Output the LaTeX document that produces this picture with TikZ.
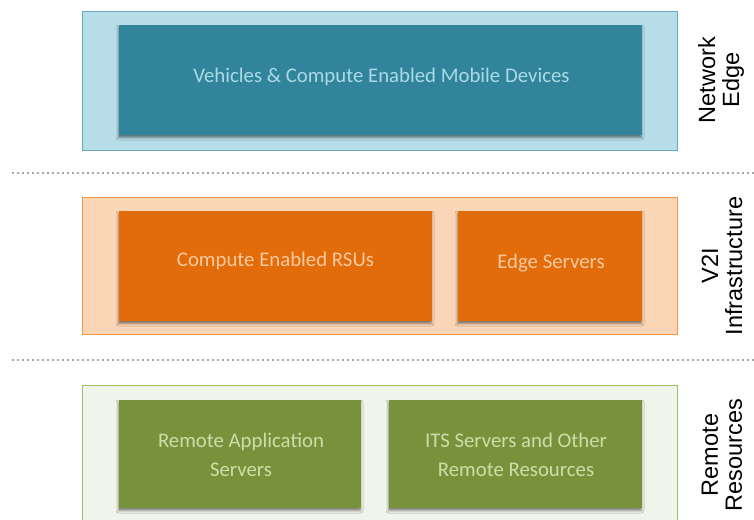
\documentclass[tikz,border=0pt]{standalone}
\usepackage{fontspec}
\setmainfont{Carlito}
\newfontfamily\labelfont{Liberation Sans}
\usetikzlibrary{shadows.blur}
\definecolor{bOut}{RGB}{183,221,232}
\definecolor{bOutLine}{RGB}{100,170,195}
\definecolor{bIn}{RGB}{50,132,155}
\definecolor{bTxt}{RGB}{170,218,232}
\definecolor{oOut}{RGB}{251,214,182}
\definecolor{oOutLine}{RGB}{245,150,70}
\definecolor{oIn}{RGB}{226,108,10}
\definecolor{oTxt}{RGB}{250,200,160}
\definecolor{gOut}{RGB}{241,244,234}
\definecolor{gOutLine}{RGB}{160,190,100}
\definecolor{gIn}{RGB}{119,146,58}
\definecolor{gTxt}{RGB}{205,222,170}
\tikzset{
  outerbox/.style={draw, line width=1pt, inner sep=0pt},
  innerbox/.style={inner sep=0pt, blur shadow={shadow xshift=-0.5pt, shadow yshift=-2.5pt, shadow blur radius=2.5pt, shadow opacity=50}},
  boxtext/.style={font=\fontsize{20.8}{29}\selectfont, align=center},
  sidelabel/.style={font=\labelfont\fontsize{23.5}{24}\selectfont, align=center, rotate=90, text=black},
  sep/.style={draw=gray!70, line width=1.8pt, dash pattern=on 1.8pt off 3.2pt}
}
\begin{document}
\begin{tikzpicture}[x=1pt,y=-1pt]
\useasboundingbox (0,0) rectangle (754,519);
% top layer
\path[outerbox, draw=bOutLine, fill=bOut] (82,12) rectangle (677,150);
\path[innerbox, fill=bIn] (119,25) rectangle (642,135);
\node[boxtext, text=bTxt] (veh) at (381.5,77) {Vehicles \& Compute Enabled Mobile Devices};
\node[sidelabel] (net) at (721,80) {Network\\Edge};
% separator 1
\coordinate (s1a) at (12,173);
\coordinate (s1b) at (754,173);
\draw[sep] (s1a) -- (s1b);
% middle layer
\path[outerbox, draw=oOutLine, fill=oOut] (82,197) rectangle (677,334);
\path[innerbox, fill=oIn] (119,211) rectangle (432,321);
\path[innerbox, fill=oIn] (458,211) rectangle (642,321);
\node[boxtext, text=oTxt] (rsu) at (275.5,261) {Compute Enabled RSUs};
\node[boxtext, text=oTxt] (edge) at (551,263) {Edge Servers};
\node[sidelabel] (v2i) at (722,266) {V2I\\Infrastructure};
% separator 2
\coordinate (s2a) at (12,360);
\coordinate (s2b) at (754,360);
\draw[sep] (s2a) -- (s2b);
% bottom layer
\path[outerbox, draw=gOutLine, fill=gOut] (82,385) rectangle (677,522);
\path[innerbox, fill=gIn] (119,400) rectangle (361,508);
\path[innerbox, fill=gIn] (389,400) rectangle (642,508);
\node[boxtext, text=gTxt] (ras) at (241,455) {Remote Application\\Servers};
\node[boxtext, text=gTxt] (its) at (516,455) {ITS Servers and Other\\Remote Resources};
\node[sidelabel] (rem) at (722,455) {Remote\\Resources};
\end{tikzpicture}
\end{document}
